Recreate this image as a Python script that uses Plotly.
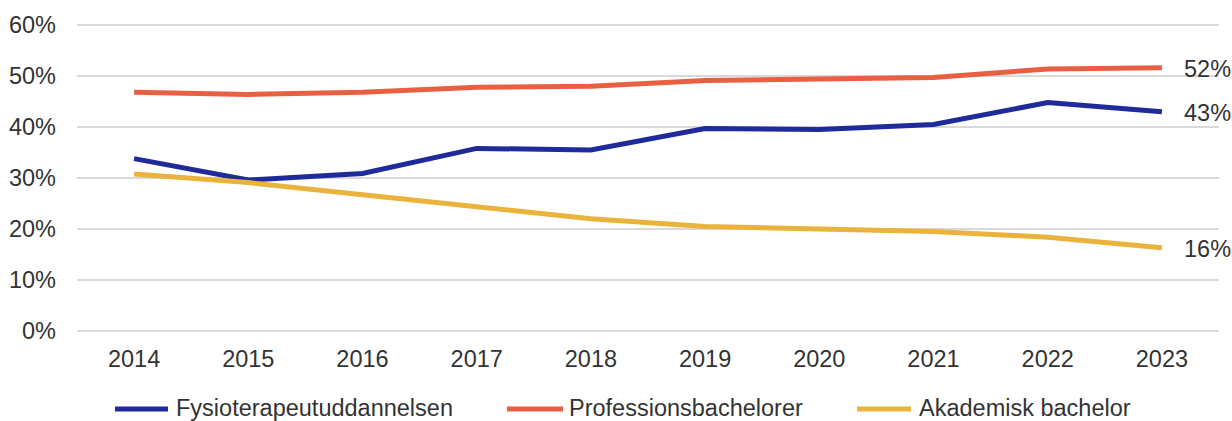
import plotly.graph_objects as go

years = ["2014", "2015", "2016", "2017", "2018", "2019", "2020", "2021", "2022", "2023"]
fysioterapeut = [33.8, 29.6, 30.9, 35.8, 35.5, 39.7, 39.5, 40.5, 44.8, 43.0]
professionsbachelorer = [46.8, 46.4, 46.8, 47.8, 48.0, 49.1, 49.4, 49.7, 51.4, 51.6]
akademisk = [30.8, 29.1, 26.7, 24.4, 22.0, 20.5, 20.1, 19.5, 18.4, 16.3]

series_names = ["Fysioterapeutuddannelsen", "Professionsbachelorer", "Akademisk bachelor"]
series_values = [fysioterapeut, professionsbachelorer, akademisk]
colors = ["#1f2a9b", "#e95f41", "#eab33c"]

y_ticks = [0, 10, 20, 30, 40, 50, 60]

FONT = "Liberation Sans, Arial, sans-serif"
TEXT_COLOR = "#333333"
FS = 23.5

# plot area: top y=23, bottom y=333 (px) -> range padded by 0.4 units each side
PLOT_TOP, PLOT_BOTTOM = 23, 333
PH = PLOT_BOTTOM - PLOT_TOP


def paper_y(px):
    return (PLOT_BOTTOM - px) / PH


fig = go.Figure()
last_idx = len(years) - 1
for name, vals, col in zip(series_names, series_values, colors):
    fig.add_trace(go.Scatter(
        x=years, y=vals, mode="lines", name=name,
        line=dict(color=col, width=5),
        showlegend=False, cliponaxis=False, hoverinfo="skip",
    ))
    fig.add_annotation(
        x=last_idx, y=vals[-1], xref="x", yref="y",
        text=f"{round(vals[-1])}%", showarrow=False,
        xanchor="left", yanchor="middle", xshift=20, yshift=-1,
        font=dict(family=FONT, size=FS, color=TEXT_COLOR),
    )

# custom legend (paper coordinates)
legend_pos = [(0.0333, 0.0797, 0.0849), (0.3765, 0.4256, 0.4291), (0.6830, 0.7303, 0.7356)]
for (x0, x1, xt), name, col in zip(legend_pos, series_names, colors):
    fig.add_shape(type="line", xref="paper", yref="paper",
                  x0=x0, x1=x1, y0=paper_y(409), y1=paper_y(409),
                  line=dict(color=col, width=5))
    fig.add_annotation(x=xt, y=paper_y(408), xref="paper", yref="paper",
                       text=name, showarrow=False, xanchor="left", yanchor="middle",
                       font=dict(family=FONT, size=FS, color=TEXT_COLOR))

fig.update_layout(
    width=1232, height=421,
    margin=dict(l=77, r=13, t=PLOT_TOP, b=421 - PLOT_BOTTOM, autoexpand=False),
    paper_bgcolor="white", plot_bgcolor="white",
    font=dict(family=FONT, size=FS, color=TEXT_COLOR),
    showlegend=False,
)
fig.update_xaxes(
    type="category", range=[-0.5, len(years) - 0.5],
    showgrid=False, zeroline=False, showline=False, automargin=False,
    ticks="", ticklabelstandoff=9,
    tickfont=dict(family=FONT, size=FS, color=TEXT_COLOR),
)
fig.update_yaxes(
    range=[-0.4, 60.4], tickvals=y_ticks, ticktext=[f"{v}%" for v in y_ticks],
    showgrid=True, gridcolor="#d9d9d9", gridwidth=1.5, automargin=False,
    zeroline=False, showline=False, ticks="", ticklabelstandoff=20,
    tickfont=dict(family=FONT, size=FS, color=TEXT_COLOR),
)

fig.write_html("out.html", config={"displayModeBar": False},
               post_script="document.body.style.margin='0';document.body.style.overflow='hidden';")
